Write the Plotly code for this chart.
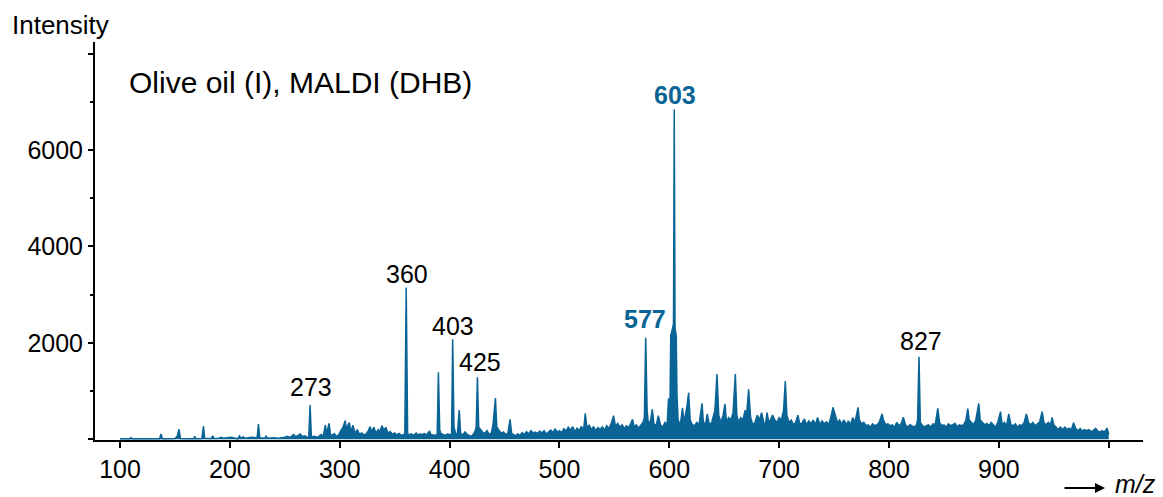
import plotly.graph_objects as go

# ---------------- data ----------------
mz = [
    100, 109, 110, 111, 136, 137.3, 138.5, 150, 152, 153.7, 155, 167, 168, 169,
    174.5, 175.9, 177, 183, 184.4, 185.5, 190, 192, 194, 199, 201, 207, 208.7, 210,
    212, 214, 220, 224.8, 226, 227.2, 232, 233, 234, 240, 244, 250,
    252, 255, 258, 260, 262, 264, 266, 268, 270, 271.8, 273, 274.2, 276, 278, 280,
    283, 285, 286.9, 288, 290.3, 291.5, 293, 295, 297, 299, 301, 303, 304.9, 306,
    307.5, 308.8, 310, 312, 314, 316, 318, 320, 322, 324, 326, 327.7, 329, 331, 333,
    335, 336.5, 338.3, 340, 342, 344, 346, 348, 350, 352, 354, 356, 358, 359.2,
    360.5, 361.8, 363, 365, 367, 369.6, 371, 373, 375, 377, 379, 381.7, 383, 385,
    387, 388.7, 389.8, 391, 392, 394, 396, 398, 400, 401.8, 402.8, 404, 405.5, 407,
    408.8, 410, 412, 414, 416, 418, 420, 422, 423, 424.2, 425.3, 426.5, 428, 430,
    432, 434, 436, 438, 439.5, 441.7, 443, 445, 447, 449, 451, 453, 455, 456.5, 458,
    460, 462, 464, 466, 468, 470, 472, 474, 476, 478, 480, 482, 484, 486, 488, 490,
    492, 494, 496, 498, 500, 502, 504, 506, 508, 510, 512, 514, 516, 518, 520, 522,
    523.5, 525, 527, 529, 531, 533, 535, 537, 539, 541, 543, 545, 547, 549.3, 551,
    553, 555, 557, 559, 561, 563, 565, 566.5, 568, 570, 572, 574, 576, 577.3, 578.5,
    579.8, 581, 583, 584.5, 586, 588, 590, 592, 594, 596, 598, 599.3, 600.5, 601.3,
    602.5, 603.8, 604.5, 605.2, 606.3, 607, 608, 610, 612, 613.5, 616, 617.6, 619,
    621, 623, 625, 627, 629.8, 631, 633, 634.5, 636, 638, 640, 641.5, 643.4, 645,
    647, 649, 650.7, 652, 654, 656, 658, 660.1, 661.5, 663, 665, 667, 669, 670.5,
    672.2, 674, 676, 678, 680, 682, 684, 686, 687.5, 689, 690.5, 692, 694, 696, 698,
    700, 702, 704, 705.6, 707, 709, 711, 713, 715, 717, 719, 721, 723, 725, 727, 729,
    731, 733, 735, 737, 739, 741, 743, 745, 747, 749, 751, 753, 755, 757, 759, 761,
    763, 765, 767, 769, 771.8, 773, 775, 777, 779, 781, 783, 785, 787, 789, 791,
    793.6, 795, 797, 799, 801, 803, 805, 807, 809, 811, 813, 815, 817, 819, 821, 823,
    825, 826, 827.3, 828.5, 830, 832, 834, 836, 838, 840, 842, 844.4, 846, 848, 850,
    852, 854, 856, 858, 860, 862, 864, 866, 868, 870, 871.7, 873, 875, 877, 879,
    881.7, 883, 885, 887, 889, 891, 893, 895, 897, 899, 901.5, 903, 905, 907, 909,
    911, 913, 915, 917, 919, 921, 923, 925, 927, 929, 931, 933, 935, 937, 939.4, 941,
    943, 945, 947, 948.5, 950, 952, 954, 956, 958, 960, 962, 964, 966, 968, 970, 972,
    974, 976, 978, 980, 982, 984, 986, 988, 990, 992, 994, 996, 998.6, 1000,
]
intensity = [
    10, 10, 35, 10, 10, 110, 10, 15, 60, 207, 15, 10, 60, 10,
    15, 275, 20, 15, 70, 15, 20, 40, 20, 40, 40, 10, 70, 20,
    50, 20, 40, 30, 317, 30, 20, 70, 20, 30, 20, 40,
    60, 40, 100, 50, 80, 110, 60, 70, 50, 40, 711, 40, 60, 50, 40,
    100, 60, 296, 120, 331, 100, 80, 120, 60, 90, 180, 250, 386, 200,
    300, 345, 150, 290, 120, 200, 100, 130, 90, 110, 180, 262, 150, 250, 130,
    200, 150, 282, 200, 240, 130, 160, 100, 130, 90, 120, 80, 100, 90,
    3150, 120, 90, 110, 80, 130, 90, 110, 100, 120, 90, 172, 100, 90,
    80, 100, 1389, 200, 120, 100, 80, 110, 100, 90, 2073, 250, 120, 100,
    607, 120, 90, 150, 100, 80, 60, 120, 160, 250, 1285, 250, 200, 150,
    120, 180, 100, 130, 300, 856, 250, 180, 120, 150, 100, 120, 414, 120, 90,
    70, 110, 80, 140, 100, 160, 110, 180, 130, 150, 120, 170, 130, 180, 110, 150,
    190, 140, 210, 150, 180, 140, 220, 170, 250, 190, 260, 160, 230, 180, 270, 190,
    539, 220, 300, 200, 260, 180, 240, 200, 260, 190, 280, 220, 320, 490, 260,
    330, 250, 300, 220, 280, 240, 330, 414, 260, 300, 230, 280, 350, 450, 2106,
    600, 300, 400, 621, 320, 280, 490, 300, 250, 350, 300, 850, 500, 2150,
    2250, 2400, 6839, 2300, 2150, 900, 400, 300, 650, 350, 675, 966, 400,
    300, 280, 350, 300, 746, 350, 320, 524, 350, 300, 450, 600, 1353, 500,
    350, 500, 732, 350, 450, 400, 550, 1353, 500, 350, 450, 400, 600, 550,
    1036, 450, 300, 350, 500, 400, 552, 350, 300, 552, 350, 400, 500, 400, 350,
    450, 400, 600, 1208, 500, 350, 400, 300, 350, 500, 300, 350, 420, 300, 380, 320,
    400, 300, 450, 300, 380, 320, 360, 300, 450, 663, 500, 350, 400, 320, 400, 300,
    380, 300, 450, 350, 663, 400, 320, 350, 280, 300, 250, 320, 280, 300, 350,
    524, 400, 300, 320, 280, 300, 250, 350, 280, 320, 456, 300, 250, 300, 280, 250,
    300, 400, 1712, 350, 300, 250, 280, 300, 250, 320, 300, 642, 350, 280, 300,
    250, 320, 280, 300, 330, 260, 300, 280, 300, 400, 635, 400, 350, 300, 400,
    746, 400, 350, 300, 330, 280, 350, 300, 250, 350, 572, 300, 350, 280, 524,
    300, 280, 320, 250, 300, 280, 350, 524, 350, 300, 350, 280, 320, 350, 572, 350,
    300, 350, 300, 456, 300, 250, 200, 250, 200, 250, 200, 230, 200, 345, 220, 180,
    220, 170, 200, 180, 200, 160, 180, 228, 170, 150, 180, 150, 228, 100,
]

x_tick_values = [100, 200, 300, 400, 500, 600, 700, 800, 900, 1000]
x_tick_labels = ["100", "200", "300", "400", "500", "600", "700", "800", "900", ""]
y_tick_values = [0, 2000, 4000, 6000, 8000]
y_tick_labels = ["", "2000", "4000", "6000", ""]
y_minor_values = [1000, 3000, 5000, 7000]

peak_labels = ["273", "360", "403", "425", "577", "603", "827"]
peak_label_bold = [False, False, False, False, True, True, False]

# ---------------- layout geometry ----------------
W, H = 1163, 497
ML, MR, MT, MB = 95, 20, 42, 57
PW, PH = W - ML - MR, H - MT - MB
X_RANGE = [77.2, 1031.2]
Y_RANGE = [-15, 8239]

BLUE = "#0a6496"
FONT = "Liberation Sans, Arial, sans-serif"


def px_to_x(px):
    return X_RANGE[0] + (px - ML) / PW * (X_RANGE[1] - X_RANGE[0])


def py_to_y(py):
    return Y_RANGE[1] - (py - MT) / PH * (Y_RANGE[1] - Y_RANGE[0])


def paper_x(px):
    return (px - ML) / PW


def paper_y(py):
    return (H - MB - py) / PH


fig = go.Figure()
fig.add_trace(go.Scatter(
    x=mz, y=intensity, mode="lines",
    line=dict(color=BLUE, width=1.5),
    fill="tozeroy", fillcolor=BLUE,
    hoverinfo="skip", showlegend=False,
))

# label centres (pixel positions in reference)
label_px = [(311, 387), (406.5, 274), (453, 326), (479.5, 362),
            (645, 319), (675, 95), (920.8, 341)]
annotations = []
for text, bold, (lx, ly) in zip(peak_labels, peak_label_bold, label_px):
    annotations.append(dict(
        x=px_to_x(lx), y=py_to_y(ly), xref="x", yref="y",
        text=f"<b>{text}</b>" if bold else text,
        showarrow=False, xanchor="center", yanchor="middle",
        font=dict(family=FONT, size=25, color=BLUE if bold else "black"),
    ))

annotations += [
    dict(x=paper_x(10), y=paper_y(25), xref="paper", yref="paper",
         text="Intensity", showarrow=False, xanchor="left", yanchor="middle",
         font=dict(family=FONT, size=26, color="black")),
    dict(x=paper_x(127), y=paper_y(83), xref="paper", yref="paper",
         text="Olive oil (I), MALDI (DHB)", showarrow=False,
         xanchor="left", yanchor="middle",
         font=dict(family=FONT, size=30, color="black")),
    dict(x=paper_x(1105), y=paper_y(488), xref="paper", yref="paper",
         text="", showarrow=True, ax=-42, ay=0, axref="pixel", ayref="pixel",
         arrowhead=2, arrowsize=1, arrowwidth=2, arrowcolor="black"),
    dict(x=paper_x(1113), y=paper_y(484), xref="paper", yref="paper",
         text="<i>m/z</i>", showarrow=False, xanchor="left", yanchor="middle",
         font=dict(family=FONT, size=25, color="black")),
]

fig.update_layout(
    width=W, height=H,
    margin=dict(l=ML, r=MR, t=MT, b=MB, pad=0),
    paper_bgcolor="white", plot_bgcolor="white",
    font=dict(family=FONT, size=25, color="black"),
    annotations=annotations,
    xaxis=dict(
        range=X_RANGE, showgrid=False, zeroline=False,
        showline=True, linecolor="black", linewidth=2,
        ticks="outside", ticklen=6, tickwidth=2, tickcolor="black",
        tickvals=x_tick_values, ticktext=x_tick_labels,
        tickfont=dict(family=FONT, size=25, color="black"),
    ),
    yaxis=dict(
        range=Y_RANGE, showgrid=False, zeroline=False,
        showline=True, linecolor="black", linewidth=2,
        ticks="outside", ticklen=5, tickwidth=2, tickcolor="black",
        tickvals=y_tick_values, ticktext=y_tick_labels,
        tickfont=dict(family=FONT, size=25, color="black"),
        minor=dict(tickvals=y_minor_values, ticks="outside", ticklen=3,
                   tickwidth=2, tickcolor="black", showgrid=False),
    ),
)

fig.write_html("out.html")
